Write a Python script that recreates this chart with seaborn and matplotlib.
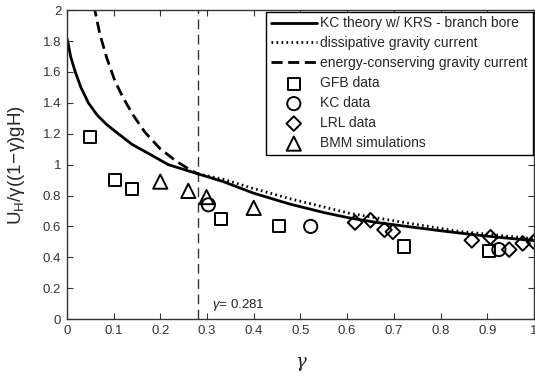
import matplotlib
matplotlib.use("Agg")
import matplotlib.pyplot as plt
import seaborn as sns
import numpy as np

# ---- data ----
kc_x = [0.0, 0.003, 0.008, 0.018, 0.03, 0.046, 0.065, 0.085, 0.11, 0.14, 0.17, 0.217, 0.27, 0.335, 0.40, 0.477, 0.55, 0.605, 0.665, 0.733, 0.80, 0.869, 0.93, 1.0]
kc_y = [1.82, 1.78, 1.70, 1.60, 1.50, 1.40, 1.32, 1.26, 1.20, 1.13, 1.08, 1.00, 0.95, 0.89, 0.815, 0.745, 0.69, 0.655, 0.625, 0.598, 0.572, 0.547, 0.528, 0.508]

ec_x = [0.058, 0.0605, 0.071, 0.0855, 0.103, 0.121, 0.142, 0.167, 0.199, 0.235, 0.27, 0.281]
ec_y = [2.03, 1.99, 1.84, 1.69, 1.54, 1.43, 1.32, 1.21, 1.105, 1.02, 0.955, 0.94]

dg_x = [0.281, 0.335, 0.40, 0.477, 0.605, 0.733, 0.84, 1.0]
dg_y = [0.94, 0.905, 0.845, 0.78, 0.685, 0.62, 0.568, 0.52]

gfb_x = [0.05, 0.103, 0.139, 0.33, 0.455, 0.721, 0.903]
gfb_y = [1.18, 0.90, 0.84, 0.65, 0.60, 0.47, 0.44]

kcd_x = [0.303, 0.522, 0.925]
kcd_y = [0.74, 0.60, 0.45]

lrl_x = [0.617, 0.65, 0.68, 0.698, 0.867, 0.907, 0.947, 0.976, 1.0]
lrl_y = [0.625, 0.64, 0.578, 0.565, 0.51, 0.53, 0.45, 0.49, 0.50]

bmm_x = [0.20, 0.26, 0.299, 0.40]
bmm_y = [0.89, 0.83, 0.79, 0.72]

gamma_c = 0.281
xticks = [0, 0.1, 0.2, 0.3, 0.4, 0.5, 0.6, 0.7, 0.8, 0.9, 1]
xticklabels = ["0", "0.1", "0.2", "0.3", "0.4", "0.5", "0.6", "0.7", "0.8", "0.9", "1"]
yticks = [0, 0.2, 0.4, 0.6, 0.8, 1, 1.2, 1.4, 1.6, 1.8, 2]
yticklabels = ["0", "0.2", "0.4", "0.6", "0.8", "1", "1.2", "1.4", "1.6", "1.8", "2"]

# ---- style ----
sns.set_style("ticks")
plt.rcParams["font.family"] = ["Liberation Sans", "DejaVu Sans"]
plt.rcParams["mathtext.fontset"] = "custom"
plt.rcParams["mathtext.rm"] = "Liberation Sans"
plt.rcParams["mathtext.it"] = "Liberation Sans:italic"
plt.rcParams["mathtext.default"] = "regular"

fig = plt.figure(figsize=(5.35, 3.75), dpi=100)
ax = fig.add_axes([0.125, 0.149, 0.873, 0.824])

ax.axvline(gamma_c, color="#333333", lw=1.0, ls=(0, (7, 4)))

sns.lineplot(x=kc_x, y=kc_y, ax=ax, color="black", lw=2.0, sort=False, estimator=None,
             label="KC theory w/ KRS - branch bore")
sns.lineplot(x=dg_x, y=dg_y, ax=ax, color="black", lw=2.0, sort=False, estimator=None,
             ls=(0, (0.6, 1.2)), label="dissipative gravity current")
sns.lineplot(x=ec_x, y=ec_y, ax=ax, color="black", lw=2.0, sort=False, estimator=None,
             ls=(0, (4.0, 2.0)), label="energy-conserving gravity current")

mk = dict(facecolors="none", edgecolor="black", linewidth=1.4, zorder=5)
sns.scatterplot(x=gfb_x, y=gfb_y, ax=ax, marker="s", s=75, label="GFB data", **mk)
sns.scatterplot(x=kcd_x, y=kcd_y, ax=ax, marker="o", s=90, label="KC data", **mk)
sns.scatterplot(x=lrl_x, y=lrl_y, ax=ax, marker="D", s=55, label="LRL data", **mk)
sns.scatterplot(x=bmm_x, y=bmm_y, ax=ax, marker="^", s=105, label="BMM simulations", **mk)

ax.set_xlim(0, 1)
ax.set_ylim(0, 2)
ax.set_xticks(xticks)
ax.set_xticklabels(xticklabels)
ax.set_yticks(yticks)
ax.set_yticklabels(yticklabels)
ax.tick_params(direction="in", top=True, right=True, length=4, width=0.8,
               labelsize=9.5, labelcolor="#333333", color="#333333", pad=4)
for sp in ax.spines.values():
    sp.set_color("#333333")
    sp.set_linewidth(1.0)

ax.set_xlabel("γ", fontsize=13, family="DejaVu Serif", style="italic", labelpad=12)
ax.set_ylabel(r"$U_H/\gamma((1\!-\!\gamma)gH)$", fontsize=13.5, labelpad=1)
ax.yaxis.set_label_coords(-0.085, 0.5)

ax.text(0.31, 0.09, r"$\it{\gamma}$= 0.281", fontsize=9.5,
        va="center", ha="left", color="#222222")

leg = ax.legend(loc="upper right", fontsize=10, frameon=True, fancybox=False,
                edgecolor="black", handlelength=3.3, handletextpad=0.25,
                labelspacing=0.43, borderaxespad=0.1, borderpad=0.35)
leg.get_frame().set_linewidth(1.0)
leg.get_frame().set_alpha(1)

fig.savefig("out.png", dpi=100)
